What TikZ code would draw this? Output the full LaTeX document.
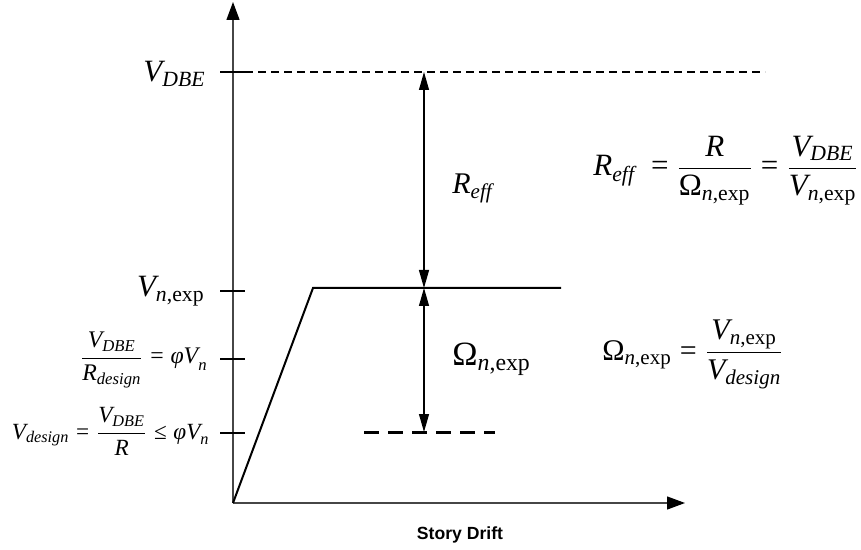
\documentclass[tikz,border=0pt]{standalone}
\usepackage{amsmath}
\usepackage{fontspec}
\setmainfont{Liberation Serif}
\setsansfont{Liberation Sans}
\usetikzlibrary{arrows.meta}
\definecolor{AxisGray}{RGB}{70,70,70}
\tikzset{
  axis/.style={draw=AxisGray,line width=0.65pt,-{Triangle[length=9pt,width=6.5pt,color=black]}},
  tickmk/.style={draw=black,line width=0.55pt},
  curve/.style={line width=1pt},
  dimarr/.style={line width=0.55pt,{Triangle[length=9pt,width=5pt]}-{Triangle[length=9pt,width=5pt]}},
  lbl/.style={inner sep=0pt},
}
\newcommand{\fs}[1]{\fontsize{#1}{#1}\selectfont}
\newcommand{\vi}[1]{\text{\itshape #1}}
\newcommand{\vu}[1]{\text{\upshape #1}}
\newcommand{\eqs}{\mathrel{\vu{=}}}
\newcommand{\les}{\mathrel{\vu{≤}}}
\newcommand{\Om}{\vu{Ω}}
\newcommand{\nexp}{\vi{n}\vu{,exp}}
\begin{document}
\begin{tikzpicture}[x=0.5pt,y=-0.5pt]
\useasboundingbox (0,0) rectangle (861,550);
% points
\coordinate (O) at (233,503);
\coordinate (ytip) at (233,2);
\coordinate (xtip) at (685,503);
\coordinate (yld) at (313,288);
\coordinate (pend) at (561,288);
\coordinate (tDBE) at (424,72);
\coordinate (tNexp) at (424,288);
\coordinate (tDes) at (424,432);
% axes
\draw[axis](O)--(ytip);
\draw[axis](O)--(xtip);
\node[lbl,font=\sffamily\bfseries\fs{8.8}] (xlab) at (460,535) {Story Drift};
% ticks
\foreach \y/\n in {72/kA,291/kB,359/kC,433/kD}{
  \coordinate (\n l) at (220,\y); \coordinate (\n r) at (245,\y);
  \draw[tickmk](\n l)--(\n r);}
% curve
\draw[curve](O)--(yld)--(pend);
% dashed levels
\coordinate (dA) at (765,72);
\draw[line width=0.7pt,dash pattern=on 4pt off 2.5pt](kAr)--(dA);
\coordinate (dB1) at (364,432);
\coordinate (dB2) at (495,432);
\draw[line width=1.5pt,dash pattern=on 7.5pt off 4.5pt](dB1)--(dB2);
% dimensions
\draw[dimarr](tDBE)--(tNexp);
\draw[dimarr](tNexp)--(tDes);
% axis labels
\node[lbl,anchor=base east,font=\fs{15.5}] (lA) at (206,82) {$\vi{V}_{\vi{DBE}}$};
\node[lbl,anchor=base east,font=\fs{15.5}] (lB) at (205,297) {$\vi{V}_{\nexp}$};
\node[lbl,anchor=base east,font=\fs{11.9}] (lC) at (208,364) {$\dfrac{\vi{V}_{\vi{DBE}}}{\vi{R}_{\vi{design}}}\eqs\vi{φV}_{\vi{n}}$};
\node[lbl,anchor=base east,font=\fs{11.6}] (lD) at (210,439) {$\vi{V}_{\vi{design}}\eqs\dfrac{\vi{V}_{\vi{DBE}}}{\vi{R}}\les\vi{φV}_{\vi{n}}$};
% ratio labels
\node[lbl,anchor=base west,font=\fs{15}] (rA) at (452,194) {$\vi{R}_{\vi{eff}}$};
\node[lbl,anchor=base west,font=\fs{17}] (rB) at (452,365) {$\Om_{\nexp}$};
% equations
\node[lbl,anchor=base west,font=\fs{15.5}] (eA) at (593,176) {$\vi{R}_{\vi{eff}}\;\eqs\dfrac{\vi{R}}{\Om_{\nexp}}\eqs\dfrac{\vi{V}_{\vi{DBE}}}{\vi{V}_{\nexp}}$};
\node[lbl,anchor=base west,font=\fs{15}] (eB) at (602,360) {$\Om_{\nexp}\eqs\dfrac{\vi{V}_{\nexp}}{\vi{V}_{\vi{design}}}$};
\end{tikzpicture}
\end{document}
